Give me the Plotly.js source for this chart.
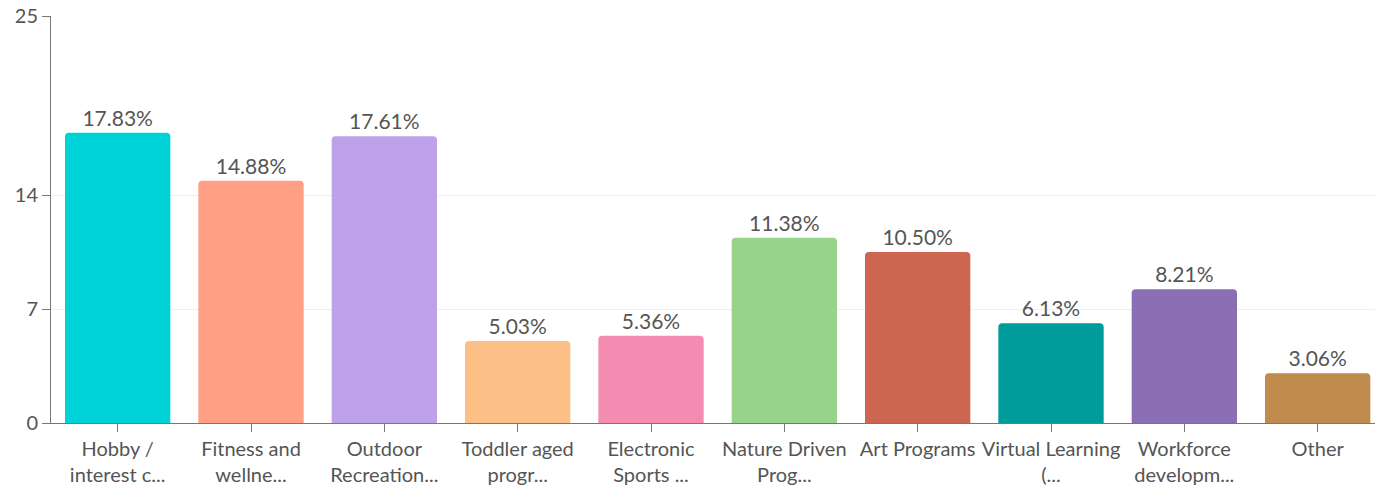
<!DOCTYPE html>
<html>
<head>
<meta charset="utf-8">
<script src="https://cdn.plot.ly/plotly-3.0.1.min.js"></script>
<style>html,body{margin:0;padding:0;background:#fff;}#chart{width:1375px;height:486px;}</style>
</head>
<body>
<div id="chart"></div>
<script>
const categories = [
  "Hobby /<br>interest c...",
  "Fitness and<br>wellne...",
  "Outdoor<br>Recreation...",
  "Toddler aged<br>progr...",
  "Electronic<br>Sports ...",
  "Nature Driven<br>Prog...",
  "Art Programs",
  "Virtual Learning<br>(...",
  "Workforce<br>developm...",
  "Other"
];
const values = [17.83, 14.88, 17.61, 5.03, 5.36, 11.38, 10.50, 6.13, 8.21, 3.06];
const colors = ["#00D3D8", "#FF9F86", "#BDA2EA", "#FCC087", "#F48BB0", "#98D38C", "#CD6650", "#009B9B", "#8B6FB5", "#C08C4D"];
const yTicks = [0, 7, 14, 25];

const trace = {
  type: "bar",
  x: categories,
  y: values,
  marker: { color: colors, cornerradius: 4 },
  text: values.map(v => v.toFixed(2) + "%"),
  textposition: "outside",
  textfont: { family: "Lato, 'Open Sans', sans-serif", size: 21, color: "#555" },
  cliponaxis: false,
  hoverinfo: "none"
};

const layout = {
  width: 1375,
  height: 486,
  margin: { l: 51, r: 0, t: 16, b: 63 },
  paper_bgcolor: "#fff",
  plot_bgcolor: "#fff",
  showlegend: false,
  bargap: 0.21,
  font: { family: "Lato, 'Open Sans', sans-serif", color: "#555" },
  xaxis: {
    type: "category",
    range: [-0.5, 9.43],
    showline: true,
    linecolor: "#777",
    linewidth: 1,
    ticks: "outside",
    ticklen: 8,
    tickcolor: "#777",
    tickangle: 0,
    tickfont: { size: 20, color: "#555" },
    showgrid: false,
    fixedrange: true
  },
  yaxis: {
    range: [0, 25],
    tickvals: yTicks,
    ticktext: yTicks.map(String),
    showline: true,
    linecolor: "#777",
    linewidth: 1,
    ticks: "outside",
    ticklen: 8,
    tickcolor: "#777",
    tickfont: { size: 20, color: "#555" },
    showgrid: true,
    gridcolor: "#efefef",
    zeroline: false,
    fixedrange: true
  }
};

Plotly.newPlot("chart", [trace], layout, { staticPlot: true, displayModeBar: false });
</script>
</body>
</html>
